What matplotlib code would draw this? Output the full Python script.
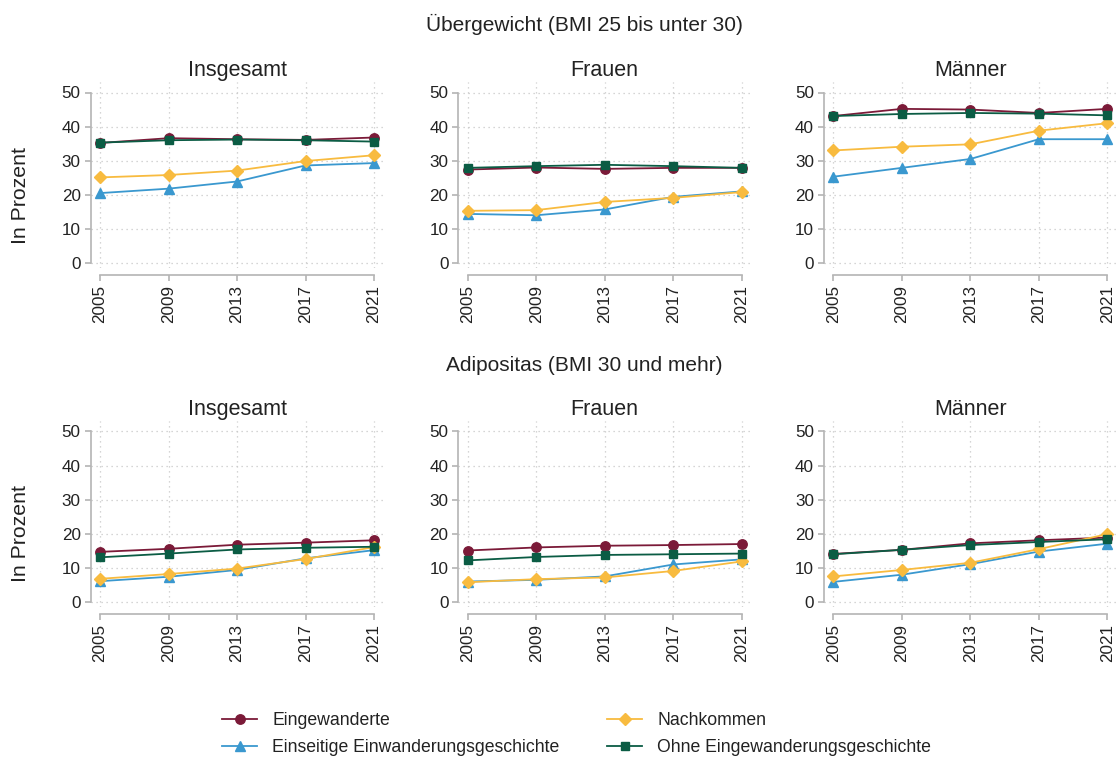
import matplotlib
matplotlib.use("Agg")
import matplotlib.pyplot as plt
from matplotlib.lines import Line2D

plt.rcParams['font.family'] = ['Liberation Sans', 'DejaVu Sans']

years = [2005, 2009, 2013, 2017, 2021]
series_names = ["Eingewanderte", "Einseitige Einwanderungsgeschichte",
                "Nachkommen", "Ohne Eingewanderungsgeschichte"]
row_titles = ["Übergewicht (BMI 25 bis unter 30)", "Adipositas (BMI 30 und mehr)"]
col_titles = ["Insgesamt", "Frauen", "Männer"]
y_label = "In Prozent"

# Übergewicht
ueb_insg_eing = [35.2, 36.6, 36.3, 36.1, 36.8]
ueb_insg_eins = [20.5, 21.8, 23.9, 28.6, 29.3]
ueb_insg_nach = [25.1, 25.8, 27.1, 29.9, 31.6]
ueb_insg_ohne = [35.3, 36.0, 36.2, 36.0, 35.6]

ueb_fr_eing = [27.4, 28.0, 27.6, 27.9, 27.9]
ueb_fr_eins = [14.4, 14.0, 15.7, 19.4, 21.0]
ueb_fr_nach = [15.3, 15.5, 17.9, 19.1, 20.8]
ueb_fr_ohne = [27.9, 28.4, 28.8, 28.4, 27.9]

ueb_ma_eing = [43.1, 45.2, 45.0, 44.0, 45.2]
ueb_ma_eins = [25.3, 27.9, 30.5, 36.3, 36.3]
ueb_ma_nach = [33.0, 34.1, 34.8, 38.8, 41.0]
ueb_ma_ohne = [43.1, 43.7, 44.0, 43.8, 43.3]

# Adipositas
adi_insg_eing = [14.7, 15.6, 16.8, 17.4, 18.1]
adi_insg_eins = [6.1, 7.4, 9.4, 12.8, 15.2]
adi_insg_nach = [6.8, 8.2, 9.8, 12.6, 16.1]
adi_insg_ohne = [13.1, 14.2, 15.4, 15.9, 16.2]

adi_fr_eing = [15.1, 16.0, 16.5, 16.7, 17.0]
adi_fr_eins = [6.0, 6.5, 7.5, 11.0, 12.5]
adi_fr_nach = [5.8, 6.7, 7.2, 9.1, 11.9]
adi_fr_ohne = [12.2, 13.2, 13.8, 14.0, 14.2]

adi_ma_eing = [14.1, 15.3, 17.2, 18.1, 18.9]
adi_ma_eins = [5.9, 8.0, 11.1, 14.8, 17.1]
adi_ma_nach = [7.5, 9.4, 11.5, 15.5, 19.9]
adi_ma_ohne = [14.0, 15.3, 16.7, 17.6, 18.4]

data = [
    [[ueb_insg_eing, ueb_insg_eins, ueb_insg_nach, ueb_insg_ohne],
     [ueb_fr_eing, ueb_fr_eins, ueb_fr_nach, ueb_fr_ohne],
     [ueb_ma_eing, ueb_ma_eins, ueb_ma_nach, ueb_ma_ohne]],
    [[adi_insg_eing, adi_insg_eins, adi_insg_nach, adi_insg_ohne],
     [adi_fr_eing, adi_fr_eins, adi_fr_nach, adi_fr_ohne],
     [adi_ma_eing, adi_ma_eins, adi_ma_nach, adi_ma_ohne]],
]

colors = ['#7b1a38', '#3a98cf', '#f8bb3f', '#0b5c44']
markers = ['o', '^', 'D', 's']
msizes = [6.8, 7.2, 6.6, 6.4]
lw = 1.3
txt = '#222222'
axcol = '#b4b4b4'
tick_fs = 12.3

W, H = 1120, 758
fig = plt.figure(figsize=(W / 100, H / 100), dpi=100)

x2005 = [100, 467.7, 833.3]
xspan = 274.0
pad_l, pad_r = 9.5, 10.0
row_y0 = [263.0, 602.0]     # pixel of value 0
pxu = 3.41                  # pixels per unit
ylo, yhi = -1.5, 53.0

for r in range(2):
    for c in range(3):
        left_px = x2005[c] - pad_l
        width_px = xspan + pad_l + pad_r
        bottom_px = row_y0[r] - ylo * pxu
        top_px = row_y0[r] - yhi * pxu
        ax = fig.add_axes([left_px / W, 1 - bottom_px / H, width_px / W, (bottom_px - top_px) / H])
        ax.set_xlim(2005 - pad_l * 16 / xspan, 2021 + pad_r * 16 / xspan)
        ax.set_ylim(ylo, yhi)
        for s in range(4):
            ax.plot(years, data[r][c][s], color=colors[s], marker=markers[s],
                    markersize=msizes[s], linewidth=lw, zorder=3 + s)
        ax.set_xticks(years)
        ax.set_xticklabels([str(y) for y in years])
        ax.set_yticks([0, 10, 20, 30, 40, 50])
        ax.set_yticklabels(['0', '10', '20', '30', '40', '50'])
        ax.grid(True, linestyle=(0, (1, 3)), color='#c8c8c8', linewidth=0.9)
        ax.set_axisbelow(True)
        for sp in ['top', 'right']:
            ax.spines[sp].set_visible(False)
        ax.spines['left'].set_bounds(0, 50)
        ax.spines['left'].set_color(axcol)
        ax.spines['left'].set_linewidth(1.2)
        ax.spines['bottom'].set_bounds(2005, 2021)
        ax.spines['bottom'].set_position(('outward', 5))
        ax.spines['bottom'].set_color(axcol)
        ax.spines['bottom'].set_linewidth(1.2)
        ax.tick_params(axis='both', colors=axcol, labelcolor=txt, length=4, width=1.2,
                       labelsize=tick_fs)
        ax.tick_params(axis='x', pad=3, labelrotation=90)
        ax.tick_params(axis='y', pad=3)
        cx = (x2005[c] + xspan / 2) / W
        fig.text(cx, 1 - (76 + 339 * r) / H, col_titles[c], ha='center', va='baseline',
                 fontsize=15.5, color=txt)
    fig.text(20.5 / W, 1 - (195 + 339 * r) / H, y_label, rotation=90, ha='center', va='center',
             fontsize=15.3, color=txt)

fig.text(584.5 / W, 1 - 24 / H, row_titles[0], ha='center', va='center', fontsize=15, color=txt)
fig.text(584.5 / W, 1 - 365 / H, row_titles[1], ha='center', va='center', fontsize=15, color=txt)

handles = [Line2D([0], [0], color=colors[s], marker=markers[s], markersize=msizes[s],
                  linewidth=lw) for s in range(4)]
leg_kw = dict(loc='upper left', frameon=False, fontsize=12.7, handlelength=2.0,
              labelspacing=0.55, handletextpad=0.85, borderpad=0, borderaxespad=0,
              labelcolor=txt)
fig.legend([handles[0], handles[1]], [series_names[0], series_names[1]],
           bbox_to_anchor=(222 / W, 1 - 712 / H), **leg_kw)
fig.legend([handles[2], handles[3]], [series_names[2], series_names[3]],
           bbox_to_anchor=(607 / W, 1 - 712 / H), **leg_kw)

fig.savefig('out.png', dpi=100, facecolor='white')
